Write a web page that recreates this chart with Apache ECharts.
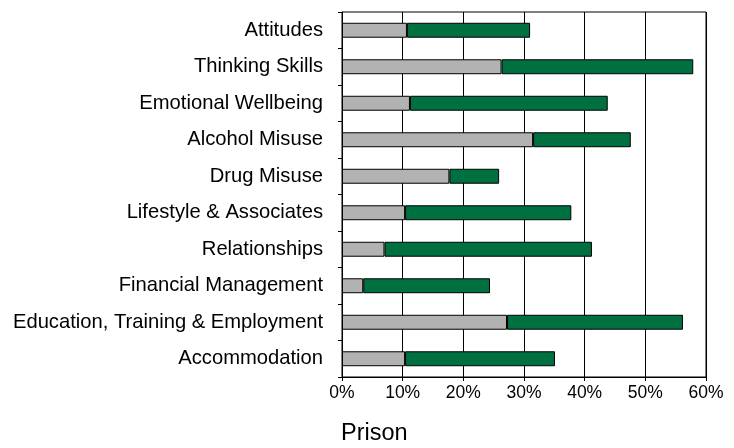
<!DOCTYPE html>
<html>
<head>
<meta charset="utf-8">
<script src="https://cdn.jsdelivr.net/npm/echarts@6/dist/echarts.min.js"></script>
<style>
  html, body { margin: 0; padding: 0; background: #fff; }
  #chart { width: 734px; height: 448px; }
</style>
</head>
<body>
<div id="chart"></div>
<script>
// categories listed bottom to top (category axis on y starts at the bottom)
const categories = [
  'Accommodation',
  'Education, Training & Employment',
  'Financial Management',
  'Relationships',
  'Lifestyle & Associates',
  'Drug Misuse',
  'Alcohol Misuse',
  'Emotional Wellbeing',
  'Thinking Skills',
  'Attitudes',
]
// grey part of each bar (%)
const greyValues = [10.4, 27.2, 3.5, 7.0, 10.4, 17.7, 31.5, 11.2, 26.3, 10.7]
// green part stacked on top (%)
const greenValues = [24.7, 29.0, 20.9, 34.2, 27.4, 8.2, 16.1, 32.6, 31.6, 20.3]
const xTicks = [0, 10, 20, 30, 40, 50, 60]

const chart = echarts.init(document.getElementById('chart'))

const font = 'Liberation Sans, Arial, sans-serif'

const option = {
  animation: false,
  title: {
    text: 'Prison',
    left: 341,
    top: 422,
    padding: 0,
    textStyle: {
      fontFamily: font,
      fontSize: 23.5,
      fontWeight: 'normal',
      color: '#000',
    },
  },
  grid: {
    left: 342,
    right: 28,
    top: 12,
    bottom: 71,
    show: true,
    borderColor: '#000',
    borderWidth: 1,
  },
  xAxis: {
    type: 'value',
    min: xTicks[0],
    max: xTicks[xTicks.length - 1],
    interval: 10,
    axisLine: { show: true, lineStyle: { color: '#000', width: 1 } },
    axisTick: { show: true, length: 4, lineStyle: { color: '#000' } },
    axisLabel: {
      formatter: '{value}%',
      color: '#000',
      fontFamily: font,
      fontSize: 17.5,
      margin: 7,
    },
    splitLine: { show: true, lineStyle: { color: '#000', width: 1 } },
  },
  yAxis: {
    type: 'category',
    data: categories,
    axisLine: { show: true, lineStyle: { color: '#000', width: 1 } },
    axisTick: { show: true, length: 4, lineStyle: { color: '#000' } },
    axisLabel: {
      color: '#000',
      fontFamily: font,
      fontSize: 20.2,
      margin: 19,
      padding: [8, 0, 0, 0],
    },
    splitLine: { show: false },
  },
  series: [
    {
      name: 'grey',
      type: 'bar',
      stack: 'total',
      data: greyValues,
      barCategoryGap: '59%',
      itemStyle: { color: '#b2b2b2', borderColor: '#000', borderWidth: 1 },
    },
    {
      name: 'green',
      type: 'bar',
      stack: 'total',
      data: greenValues,
      barCategoryGap: '59%',
      itemStyle: { color: '#007040', borderColor: '#000', borderWidth: 1 },
    },
  ],
}

chart.setOption(option)
</script>
</body>
</html>
